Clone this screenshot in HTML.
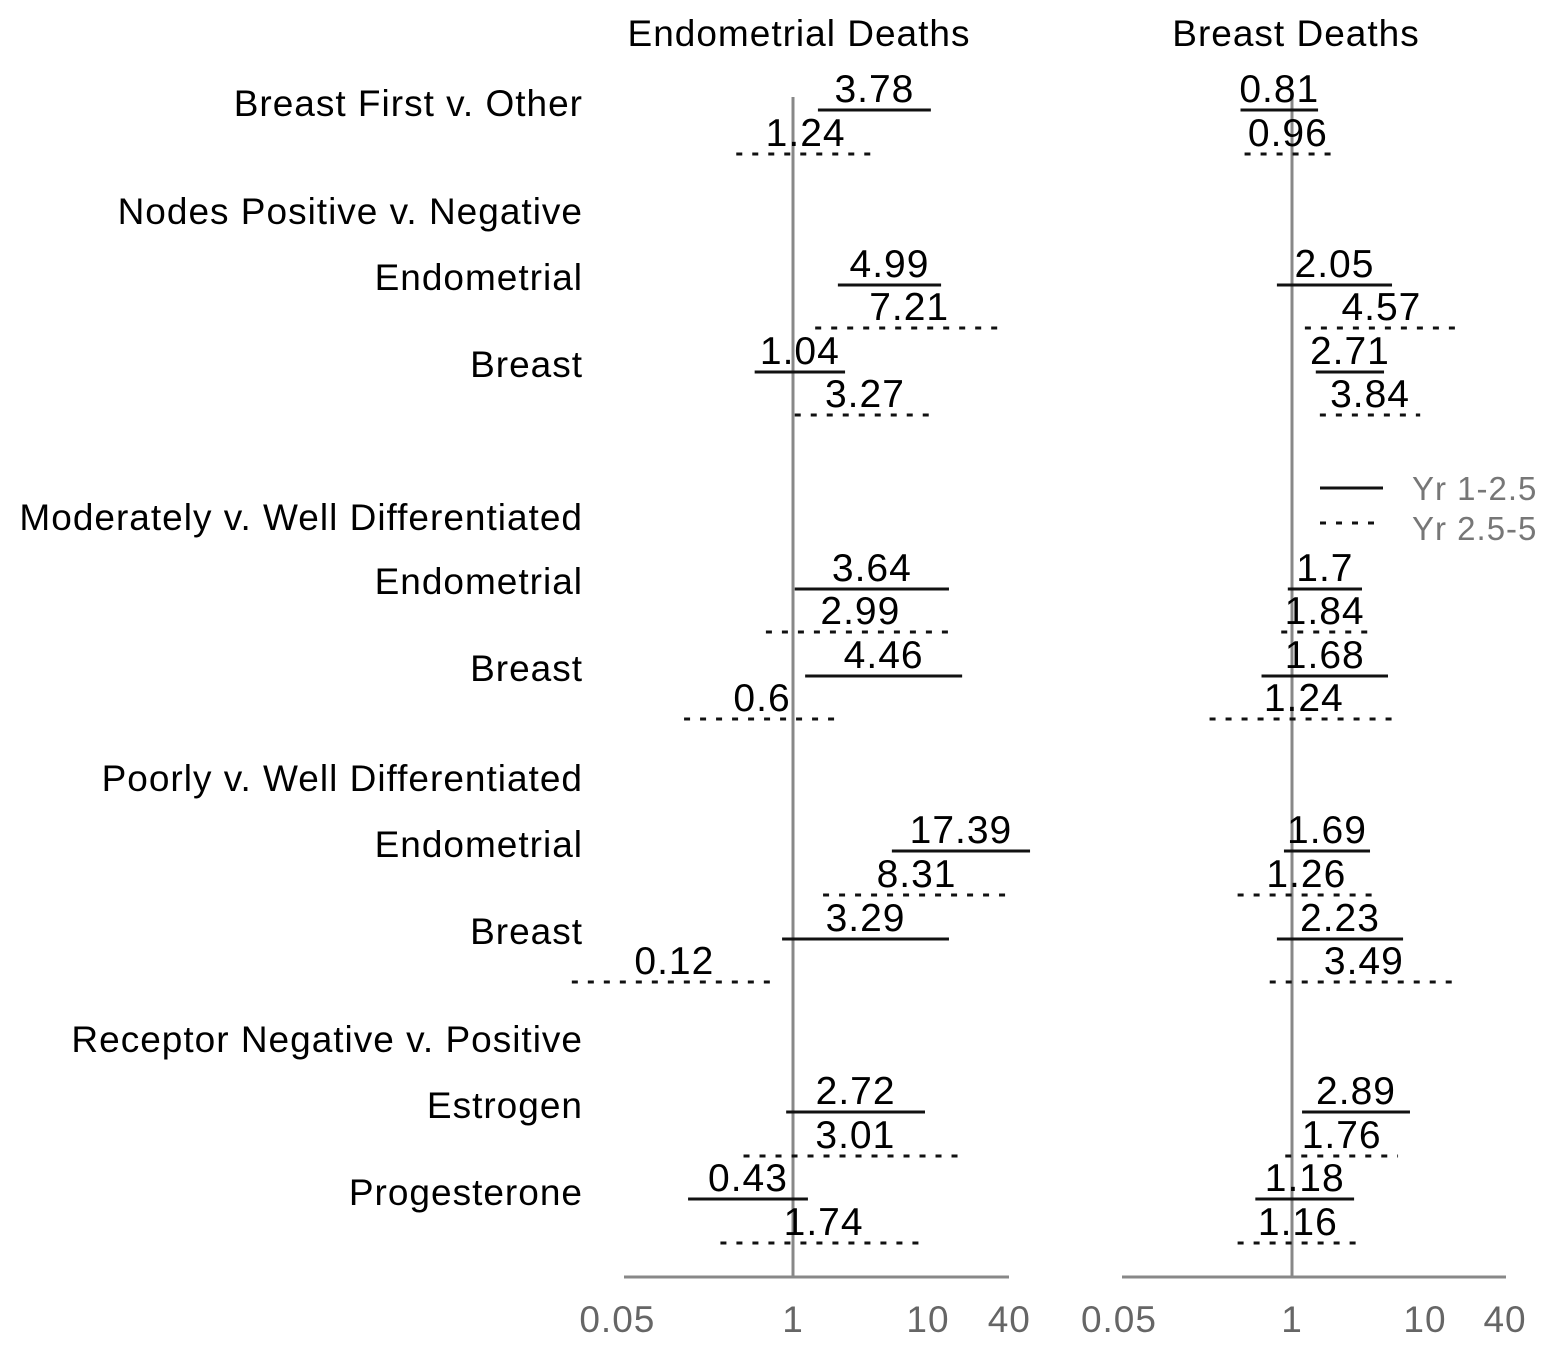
<!DOCTYPE html>
<html><head><meta charset="utf-8"><style>
body{margin:0;background:#fff}
svg{display:block}
text{font-family:"Liberation Sans",sans-serif}
</style></head><body>
<svg id="chart" width="1559" height="1351" xmlns="http://www.w3.org/2000/svg">
<rect width="1559" height="1351" fill="#fff"/>
<text x="799" y="46" font-size="37" letter-spacing="1" text-anchor="middle" fill="#000">Endometrial Deaths</text>
<text x="1296" y="46" font-size="37" letter-spacing="1" text-anchor="middle" fill="#000">Breast Deaths</text>
<g id="labels"></g>
<g id="marks"></g>
<g>
<line x1="1320" x2="1383" y1="488" y2="488" stroke="#111" stroke-width="3"/>
<text x="1412" y="500" font-size="33" letter-spacing="1" fill="#777">Yr 1-2.5</text>
<line x1="1320" x2="1383" y1="523" y2="523" stroke="#111" stroke-width="3" stroke-dasharray="6 10"/>
<text x="1412" y="540" font-size="33" letter-spacing="1" fill="#777">Yr 2.5-5</text>
</g>
</svg>
<script>
const rowLabels=[["Breast First v. Other",116],["Nodes Positive v. Negative",224],["Endometrial",290],["Breast",377],["Moderately v. Well Differentiated",530],["Endometrial",594],["Breast",681],["Poorly v. Well Differentiated",791],["Endometrial",857],["Breast",944],["Receptor Negative v. Positive",1052],["Estrogen",1118],["Progesterone",1205]];
const rowY=[110,154,285,328,372,415,589,632,676,719,851,895,939,982,1112,1156,1199,1243];
const rowDotted=[0,1,0,1,0,1,0,1,0,1,0,1,0,1,0,1,0,1];
const endoEst=[3.78,1.24,4.99,7.21,1.04,3.27,3.64,2.99,4.46,0.6,17.39,8.31,3.29,0.12,2.72,3.01,0.43,1.74];
const endoLo=[1.53,0.38,2.15,1.46,0.52,1.03,1.03,0.63,1.23,0.156,5.4,1.67,0.83,0.023,0.89,0.43,0.167,0.29];
const endoHi=[10.5,4.05,12.5,36,2.43,11.3,14.3,15.8,17.9,2.23,57,40.5,14.3,0.76,9.5,19.5,1.29,9.8];
const brEst=[0.81,0.96,2.05,4.57,2.71,3.84,1.7,1.84,1.68,1.24,1.69,1.26,2.23,3.49,2.89,1.76,1.18,1.16];
const brLo=[0.41,0.44,0.77,1.25,1.51,1.62,0.93,0.83,0.59,0.24,0.87,0.39,0.77,0.68,1.19,0.89,0.53,0.39];
const brHi=[1.57,1.97,5.65,17.7,4.92,9.2,3.36,3.73,5.27,6.27,3.86,4.21,6.84,17.7,7.71,6.27,2.93,3.14];
const tickVals=[0.05,1,10,40];
const tickText=["0.05","1","10","40"];
const NS="http://www.w3.org/2000/svg";
const labels=document.getElementById('labels'),marks=document.getElementById('marks');
function mk(tag,attrs,parent,txt){const e=document.createElementNS(NS,tag);for(const k in attrs)e.setAttribute(k,attrs[k]);if(txt!==undefined)e.textContent=txt;parent.appendChild(e);return e;}
function xLeft(v){return 793+Math.log10(v)*135;}
function xRight(v){return 1292+Math.log10(v)*133;}
rowLabels.forEach(r=>{const t=mk('text',{x:583,y:r[1],'font-size':37,'letter-spacing':1,'text-anchor':'end',fill:'#000'},labels,r[0]);

});
function panel(sx,est,lo,hi,axL,axR,name){
  const ref=mk('line',{x1:sx(1),x2:sx(1),y1:97,y2:1277,stroke:'#888','stroke-width':3},marks);
  
  
  const ax=mk('line',{x1:axL,x2:axR,y1:1277,y2:1277,stroke:'#888','stroke-width':3},marks);
  
  
  tickVals.forEach((v,i)=>{const t=mk('text',{x:sx(v)+(i==0?0:0),y:1332,'font-size':37,'letter-spacing':1,'text-anchor':'middle',fill:'#666'},marks,tickText[i]);
    
    });
  rowY.forEach((y,i)=>{
    const x1=sx(lo[i]),x2=sx(hi[i]);
    const a={x1:x1,x2:x2,y1:y,y2:y,stroke:'#111','stroke-width':3};
    if(rowDotted[i])a['stroke-dasharray']='6 10';
    const l=mk('line',a,marks);
    
    
    const t=mk('text',{x:(x1+x2)/2,y:y-8,'font-size':39,'letter-spacing':1,'text-anchor':'middle',fill:'#000'},marks,String(est[i]));
    
    
  });
}
panel(xLeft,endoEst,endoLo,endoHi,624,1009,'endometrial');
panel(xRight,brEst,brLo,brHi,1122,1506,'breast');
</script>
</body></html>
